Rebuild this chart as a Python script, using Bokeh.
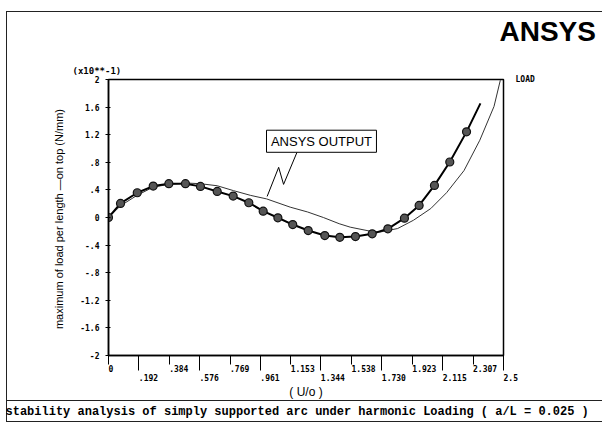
from bokeh.embed import file_html
from bokeh.models import FixedTicker, Label, LinearAxis, Range1d, Title
from bokeh.plotting import figure
from bokeh.resources import INLINE

# ---- data -------------------------------------------------------------
# normalised deflection U/o and load per length (x10**-1 N/mm)
u_marked = [0.0, 0.076, 0.182, 0.283, 0.382, 0.487, 0.582, 0.688, 0.789, 0.888,
            0.979, 1.072, 1.166, 1.264, 1.369, 1.464, 1.563, 1.669, 1.768, 1.873,
            1.966, 2.063, 2.160, 2.266, 2.354]
load_marked = [0.0, 0.204, 0.359, 0.455, 0.490, 0.490, 0.451, 0.378, 0.310, 0.214,
               0.092, -0.004, -0.102, -0.189, -0.262, -0.287, -0.276, -0.237, -0.164, -0.010,
               0.175, 0.465, 0.804, 1.241, 1.654]

u_ansys = [0.0, 0.076, 0.18, 0.283, 0.38, 0.487, 0.582, 0.688, 0.79, 0.9,
           1.0, 1.15, 1.26, 1.36, 1.46, 1.53, 1.66, 1.72, 1.83, 1.93,
           2.04, 2.14, 2.25, 2.35, 2.44, 2.48]
load_ansys = [0.0, 0.17, 0.32, 0.44, 0.48, 0.50, 0.49, 0.46, 0.39, 0.32,
              0.27, 0.15, 0.08, 0.0, -0.09, -0.14, -0.20, -0.21, -0.16, -0.04,
              0.13, 0.36, 0.68, 1.12, 1.61, 1.99]

x_ticks = [0, 0.192, 0.384, 0.576, 0.769, 0.961, 1.153, 1.344, 1.538, 1.730,
           1.923, 2.115, 2.307, 2.5]
x_tick_labels = ["0", ".192", ".384", ".576", ".769", ".961", "1.153", "1.344",
                 "1.538", "1.730", "1.923", "2.115", "2.307", "2.5"]
y_ticks = [-2, -1.6, -1.2, -0.8, -0.4, 0, 0.4, 0.8, 1.2, 1.6, 2]
y_tick_labels = ["-2", "-1.6", "-1.2", "-.8", "-.4", "0", ".4", ".8", "1.2", "1.6", "2"]

# callout path from the ANSYS curve up to its label box (data units)
callout_u = [1.004, 1.077, 1.108, 1.193]
callout_load = [0.305, 0.727, 0.480, 0.945]

MONO = "DejaVu Sans Mono"
SANS = "Liberation Sans"
# a tiny negative angle makes the x labels start at their tick instead of centring on it
LEFT_ALIGNED = -1e-4

# thin ruled lines of the printed sheet (left edge, top edge, caption strip)
sheet_lines = {
    "background-image": ", ".join(["linear-gradient(#222, #222)"] * 4),
    "background-size": "1px 411px, 596px 1px, 596px 1px, 596px 1px",
    "background-position": "6px 11px, 6px 11px, 6px 400px, 6px 421px",
    "background-repeat": "no-repeat",
}

p = figure(width=602, height=426, x_range=Range1d(0, 2.5), y_range=Range1d(-2, 2),
           output_backend="svg", toolbar_location=None, title=None,
           min_border_left=108, min_border_right=99, min_border_top=79, min_border_bottom=71,
           border_fill_color=None, styles=sheet_lines)
p.grid.visible = False
p.background_fill_color = "white"
p.outline_line_color = "black"
p.outline_line_width = 1.5

# ---- y axis -------------------------------------------------------------
p.yaxis.ticker = FixedTicker(ticks=y_ticks)
p.yaxis.major_label_overrides = {t: s for t, s in zip(y_ticks, y_tick_labels)}
p.yaxis.major_label_text_font = MONO
p.yaxis.major_label_text_font_style = "bold"
p.yaxis.major_label_text_font_size = "8px"
p.yaxis.major_label_text_color = "black"
p.yaxis.major_label_standoff = 6
p.yaxis.major_tick_in = 2
p.yaxis.major_tick_out = 3
p.yaxis.minor_tick_line_color = None
p.yaxis.axis_line_width = 1.5
p.yaxis.axis_label = "maximum of load per length \u2014on top  (N/mm)"
p.yaxis.axis_label_text_font = SANS
p.yaxis.axis_label_text_font_style = "normal"
p.yaxis.axis_label_text_font_size = "11px"
p.yaxis.axis_label_text_color = "black"
p.yaxis.axis_label_standoff = 12

# ---- x axis: upper row of labels with short ticks, long ticks between ----
xa = p.xaxis[0]
xa.ticker = FixedTicker(ticks=x_ticks[0::2], minor_ticks=x_ticks[1::2])
xa.major_label_overrides = {t: s for t, s in zip(x_ticks[0::2], x_tick_labels[0::2])}
xa.major_tick_in = 0
xa.major_tick_out = 9
xa.minor_tick_in = 0
xa.minor_tick_out = 15
xa.axis_line_width = 1.5
xa.major_label_standoff = -2
xa.major_label_orientation = LEFT_ALIGNED
xa.major_label_text_font = MONO
xa.major_label_text_font_style = "bold"
xa.major_label_text_font_size = "8px"
xa.major_label_text_color = "black"

# lower row of labels
xb = LinearAxis(ticker=FixedTicker(ticks=x_ticks[1::2]),
                major_label_overrides={t: s for t, s in zip(x_ticks[1::2], x_tick_labels[1::2])},
                axis_line_color=None, major_tick_line_color=None, minor_tick_line_color=None,
                major_tick_in=0, major_tick_out=0, major_label_standoff=-1,
                major_label_orientation=LEFT_ALIGNED, major_label_text_font=MONO,
                major_label_text_font_style="bold", major_label_text_font_size="8px",
                major_label_text_color="black",
                axis_label="( U/o )", axis_label_standoff=-3, axis_label_text_font=SANS,
                axis_label_text_font_style="normal", axis_label_text_font_size="12px",
                axis_label_text_color="black")
p.add_layout(xb, "below")

# caption strip
p.add_layout(Title(text="stability analysis of simply supported arc under harmonic Loading"
                        " ( a/L = 0.025 )",
                   align="left", offset=-103, standoff=3, text_font="Liberation Mono",
                   text_font_style="bold", text_font_size="12px", text_color="black"), "below")

# "LOAD" marker at the top of the right edge
p.add_layout(LinearAxis(ticker=FixedTicker(ticks=[2]), major_label_overrides={2: "LOAD"},
                        axis_line_color=None, major_tick_line_color=None,
                        minor_tick_line_color=None, major_tick_in=0, major_tick_out=0,
                        major_label_standoff=12, major_label_text_font=MONO,
                        major_label_text_font_style="bold", major_label_text_font_size="8px",
                        major_label_text_color="black"), "right")

# scale factor of the load axis and the program logo
p.add_layout(Title(text="(x10**-1)", align="left", offset=-36, standoff=7,
                   text_font=MONO, text_font_style="bold", text_font_size="9px",
                   text_color="black"), "above")
p.add_layout(Title(text="ANSYS", align="left", offset=391, standoff=27,
                   text_font=SANS, text_font_style="bold", text_font_size="28px",
                   text_color="black"), "above")

# ---- curves -------------------------------------------------------------
p.line(u_ansys, load_ansys, line_color="#333333", line_width=1)
p.line(u_marked, load_marked, line_color="black", line_width=2)
p.scatter(u_marked[:-1], load_marked[:-1], marker="circle", size=8,
          fill_color="#555555", line_color="#111111", line_width=1.2)

# callout to the ANSYS curve
p.line(callout_u, callout_load, line_color="black", line_width=1)
p.quad(left=[1.0], right=[1.696], bottom=[0.945], top=[1.265],
       fill_color="white", line_color="black", line_width=1)
p.add_layout(Label(x=1.348, y=1.105, text="ANSYS OUTPUT", text_align="center",
                   text_baseline="middle", text_font=SANS, text_font_size="13px",
                   text_color="black"))

open("out.html", "w").write(file_html(p, INLINE))
